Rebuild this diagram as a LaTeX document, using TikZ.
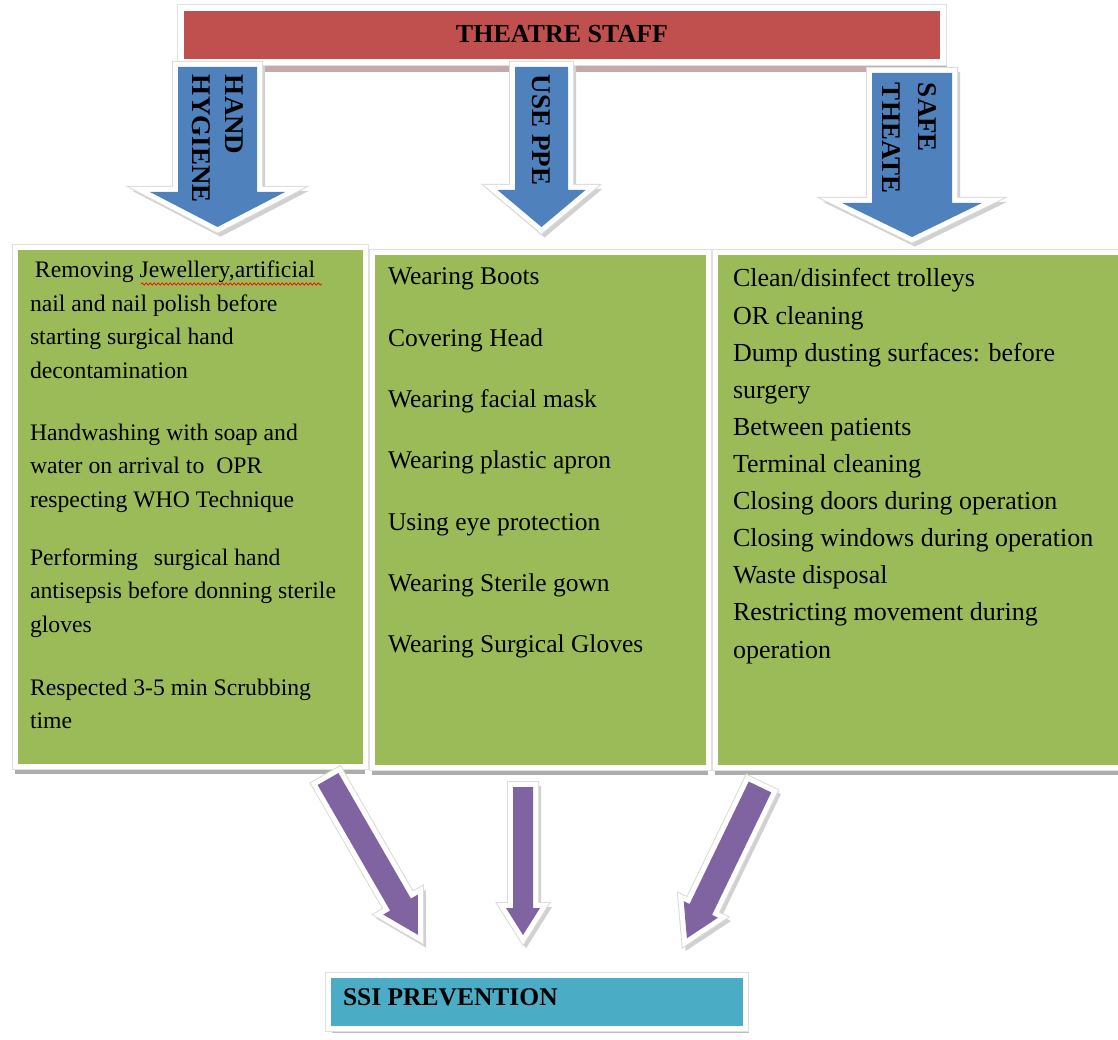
\documentclass[tikz,border=0pt]{standalone}
\usepackage{fontspec}
\setmainfont{Liberation Serif}
\usetikzlibrary{decorations.pathmorphing}
\definecolor{barred}{HTML}{C0504D}
\definecolor{arrblue}{HTML}{4F81BD}
\definecolor{boxgreen}{HTML}{9BBB59}
\definecolor{arrpurple}{HTML}{8064A2}
\definecolor{boxteal}{HTML}{4BACC6}
\definecolor{barshadow}{HTML}{C4A9A9}

% #1 tail centre, #2 angle, #3 length, #4 shaft half width, #5 head half width, #6 head length, #7 colour
\newcommand{\blockarrow}[7]{%
  \begin{scope}[shift={#1}, xshift=3pt, yshift=-4pt, rotate=#2]
    \path[draw=black!18, fill=black!18, line width=10pt, line join=miter]
      (0,-#4) -- ({#3-#6},-#4) -- ({#3-#6},-#5) -- (#3,0) -- ({#3-#6},#5) -- ({#3-#6},#4) -- (0,#4) -- cycle;
  \end{scope}
  \begin{scope}[shift={#1}, rotate=#2]
    \path[draw=black!14, line width=12pt, line join=miter]
      (0,-#4) -- ({#3-#6},-#4) -- ({#3-#6},-#5) -- (#3,0) -- ({#3-#6},#5) -- ({#3-#6},#4) -- (0,#4) -- cycle;
    \path[draw=white, line width=10pt, line join=miter]
      (0,-#4) -- ({#3-#6},-#4) -- ({#3-#6},-#5) -- (#3,0) -- ({#3-#6},#5) -- ({#3-#6},#4) -- (0,#4) -- cycle;
    \path[fill=#7]
      (0,-#4) -- ({#3-#6},-#4) -- ({#3-#6},-#5) -- (#3,0) -- ({#3-#6},#5) -- ({#3-#6},#4) -- (0,#4) -- cycle;
  \end{scope}}

\begin{document}
\begin{tikzpicture}[x=1pt, y=-1pt,
  txt/.style={inner sep=0pt, outer sep=0pt, anchor=base west},
  panelcore/.style={anchor=north west, inner sep=0pt, outer sep=0pt, draw=white, line width=5pt},
  panel/.style={panelcore,
     preaction={fill=black!32, transform canvas={yshift=-8pt}},
     preaction={draw=black!12, line width=7pt}},
  barbox/.style={panelcore, line width=6pt, fill=barred,
     preaction={fill=barshadow, transform canvas={xshift=4pt, yshift=-10pt}},
     preaction={draw=black!12, line width=8pt}},
  tealpanel/.style={panelcore, fill=boxteal,
     preaction={fill=black!25, transform canvas={xshift=4pt, yshift=-5pt}},
     preaction={draw=black!12, line width=7pt}},
  vlabel/.style={txt, rotate=-90, font=\bfseries\fontsize{27}{30}\selectfont},
  headtxt/.style={txt, font=\bfseries\fontsize{26}{30}\selectfont},
  lefttxt/.style={txt, font=\fontsize{23.7}{33.5}\selectfont},
  midtxt/.style={txt, font=\fontsize{25.5}{30}\selectfont},
  righttxt/.style={txt, font=\fontsize{26}{37.1}\selectfont}
]
\useasboundingbox (0,0) rectangle (1118,1040);
\fill[white] (0,0) rectangle (1118,1040);

% top bar
\node[barbox, minimum width=762pt, minimum height=54pt] (staff) at (181,8) {};
\node[headtxt, anchor=base] (stafftxt) at (562,43) {THEATRE STAFF};

% green panels
\node[panel, fill=boxgreen, minimum width=350pt, minimum height=518pt] (hygbox) at (15,248) {};
\node[panel, fill=boxgreen, minimum width=336pt, minimum height=514pt] (ppebox) at (372,253) {};
\node[panel, fill=boxgreen, minimum width=430pt, minimum height=514pt] (safebox) at (715,253) {};

% blue block arrows
\blockarrow{(217.5,67)}{-90}{160}{39.5}{67.5}{35}{arrblue}
\blockarrow{(541.5,67)}{-90}{160}{26.5}{44}{37}{arrblue}
\blockarrow{(912,73)}{-90}{164}{40}{70}{34}{arrblue}

\node[vlabel] (hand) at (225,75) {HAND};
\node[vlabel] (hygiene) at (192,75) {HYGIENE};
\node[vlabel] (useppe) at (532,75) {USE PPE};
\node[vlabel] (safe) at (918,83) {SAFE};
\node[vlabel] (theate) at (882,83) {THEATE};

% hand hygiene texts
\node[lefttxt] (hh1) at (30,278) {\parbox[t]{330pt}{\hspace*{5pt}Removing Jewellery,artificial\\
  nail and nail polish before\\ starting surgical hand\\ decontamination}};
\draw[red, line width=0.7pt, decorate, decoration={snake, amplitude=1.1pt, segment length=4pt}]
  (141,284) -- (322,284);
\node[lefttxt] (hh2) at (30,440) {\parbox[t]{330pt}{Handwashing with soap and\\
  water on arrival to\hspace{6pt} OPR\\ respecting WHO Technique}};
\node[lefttxt] (hh3) at (30,565) {\parbox[t]{330pt}{Performing\hspace{10pt} surgical hand\\
  antisepsis before donning sterile\\ gloves}};
\node[lefttxt] (hh4) at (30,695) {\parbox[t]{330pt}{Respected 3-5 min Scrubbing\\ time}};

% PPE texts
\node[midtxt] (p1) at (388,285) {Wearing Boots};
\node[midtxt] (p2) at (388,346.3) {Covering Head};
\node[midtxt] (p3) at (388,407.6) {Wearing facial mask};
\node[midtxt] (p4) at (388,468.9) {Wearing plastic apron};
\node[midtxt] (p5) at (388,530.2) {Using eye protection};
\node[midtxt] (p6) at (388,591.5) {Wearing Sterile gown};
\node[midtxt] (p7) at (388,652.8) {Wearing Surgical Gloves};

% safe theatre texts
\node[righttxt] (st) at (733,287) {\parbox[t]{380pt}{Clean/disinfect trolleys\\
  OR cleaning\\ Dump dusting surfaces: before\\ surgery\\ Between patients\\
  Terminal cleaning\\ Closing doors during operation\\ Closing windows during operation\\
  Waste disposal\\ Restricting movement during\\ operation}};

% purple block arrows
\blockarrow{(328,779)}{-60}{180}{12}{20}{35}{arrpurple}
\blockarrow{(523,787)}{-90}{148}{10}{17}{27}{arrpurple}
\blockarrow{(760,787)}{-115.8}{168}{12.5}{19}{32}{arrpurple}

% result box
\node[tealpanel, minimum width=417pt, minimum height=53pt] (ssi) at (328,975) {};
\node[headtxt, font=\bfseries\fontsize{25.5}{30}\selectfont] (ssitxt) at (343,1005) {SSI PREVENTION};
\end{tikzpicture}
\end{document}
